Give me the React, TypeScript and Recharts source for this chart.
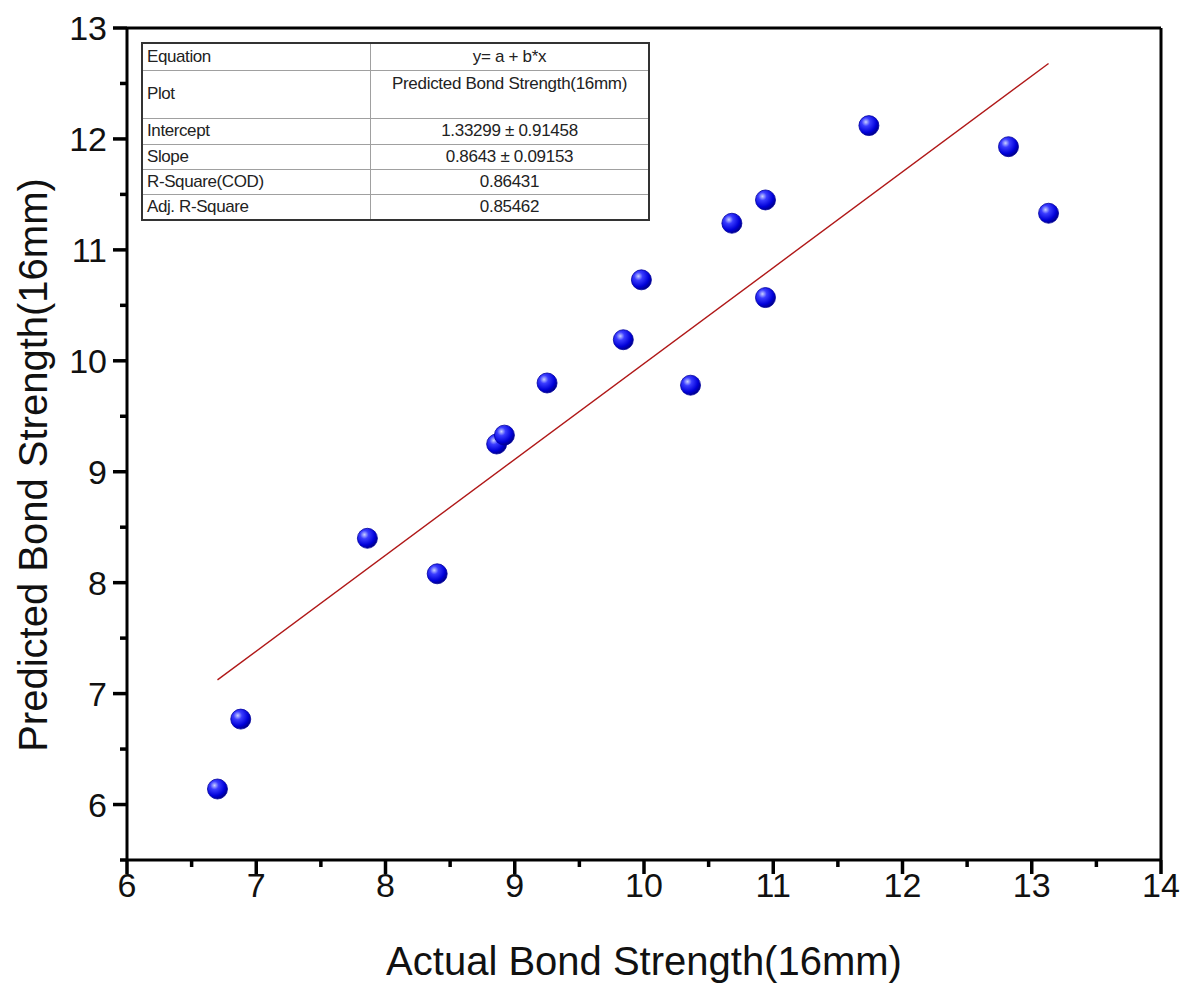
import React from "react";
import {
  ScatterChart,
  Scatter,
  XAxis,
  YAxis,
  ReferenceLine,
} from "recharts";

const actual = [6.7, 6.88, 7.86, 8.4, 8.86, 8.92, 9.25, 9.84, 9.98, 10.36, 10.68, 10.94, 10.94, 11.74, 12.82, 13.13];
const predicted = [6.14, 6.77, 8.4, 8.08, 9.25, 9.33, 9.8, 10.19, 10.73, 9.78, 11.24, 10.57, 11.45, 12.12, 11.93, 11.33];

// fitted line end points (y = 1.33299 + 0.8643x)
const fitX = [6.7, 13.13];
const fitY = [7.124, 12.68];

const xTicks = [6, 6.5, 7, 7.5, 8, 8.5, 9, 9.5, 10, 10.5, 11, 11.5, 12, 12.5, 13, 13.5, 14];
const yTicks = [5.5, 6, 6.5, 7, 7.5, 8, 8.5, 9, 9.5, 10, 10.5, 11, 11.5, 12, 12.5, 13];

const tableRows = [
  ["Equation", "y= a + b*x"],
  ["Plot", "Predicted Bond Strength(16mm)"],
  ["Intercept", "1.33299 \u00b1 0.91458"],
  ["Slope", "0.8643 \u00b1 0.09153"],
  ["R-Square(COD)", "0.86431"],
  ["Adj. R-Square", "0.85462"],
];
const rowHeights = [27, 48, 26, 25, 25, 26];

const points = actual.map((x, i) => ({ x, y: predicted[i] }));
const fitLine = fitX.map((x, i) => ({ x, y: fitY[i] }));

const FONT = "'Liberation Sans', Arial, sans-serif";

const XTick = (props: any) => {
  const { x, y, payload } = props;
  const major = Number.isInteger(payload.value);
  return (
    <g>
      <line x1={x} x2={x} y1={y} y2={y + (major ? 14 : 7)} stroke="#000" strokeWidth={3.5} />
      {major && (
        <text x={x} y={y + 37} textAnchor="middle" fontSize={34} fill="#111" fontFamily={FONT}>
          {payload.value}
        </text>
      )}
    </g>
  );
};

const YTick = (props: any) => {
  const { x, y, payload } = props;
  const major = Number.isInteger(payload.value);
  return (
    <g>
      <line x1={x - (major ? 14 : 7)} x2={x} y1={y} y2={y} stroke="#000" strokeWidth={3.5} />
      {major && (
        <text x={x - 20} y={y + 12} textAnchor="end" fontSize={34} fill="#111" fontFamily={FONT}>
          {payload.value}
        </text>
      )}
    </g>
  );
};

const Ball = (props: any) => {
  const { cx, cy } = props;
  if (cx == null || cy == null) return <g />;
  return <circle cx={cx} cy={cy} r={10} fill="url(#ballGrad)" stroke="#0000a0" strokeWidth={0.8} />;
};

const NoDot = () => <g />;

export default function App() {
  return (
    <div style={{ position: "absolute", left: 0, top: 0, width: 1186, height: 994, background: "#fff" }}>
      <ScatterChart width={1186} height={994} margin={{ top: 28, right: 25, left: 0, bottom: 0 }}>
        <defs>
          <radialGradient id="ballGrad" cx="35%" cy="32%" r="70%">
            <stop offset="0%" stopColor="#c8d0ff" />
            <stop offset="30%" stopColor="#3a3cff" />
            <stop offset="75%" stopColor="#0000d8" />
            <stop offset="100%" stopColor="#00008a" />
          </radialGradient>
        </defs>
        <XAxis
          type="number"
          dataKey="x"
          domain={[6, 14]}
          ticks={xTicks}
          interval={0}
          height={134}
          tickSize={0}
          tickMargin={0}
          tickLine={false}
          tick={<XTick />}
          axisLine={{ stroke: "#000", strokeWidth: 3 }}
          allowDataOverflow
          label={{
            content: () => (
              <text x={644} y={975} textAnchor="middle" fontSize={40} fill="#111" fontFamily={FONT}>
                Actual Bond Strength(16mm)
              </text>
            ),
          }}
        />
        <YAxis
          type="number"
          dataKey="y"
          domain={[5.5, 13]}
          ticks={yTicks}
          interval={0}
          width={127}
          tickSize={0}
          tickMargin={0}
          tickLine={false}
          tick={<YTick />}
          axisLine={{ stroke: "#000", strokeWidth: 3 }}
          allowDataOverflow
          label={{
            content: () => (
              <text
                x={47}
                y={465}
                textAnchor="middle"
                fontSize={40}
                fill="#111"
                fontFamily={FONT}
                transform="rotate(-90 47 465)"
              >
                Predicted Bond Strength(16mm)
              </text>
            ),
          }}
        />
        <ReferenceLine y={13} stroke="#000" strokeWidth={3} />
        <ReferenceLine x={14} stroke="#000" strokeWidth={3} />
        <Scatter
          data={fitLine}
          line={{ stroke: "#b01818", strokeWidth: 1.4 }}
          shape={<NoDot />}
          isAnimationActive={false}
        />
        <Scatter data={points} shape={<Ball />} isAnimationActive={false} />
      </ScatterChart>
      <table
        style={{
          position: "absolute",
          left: 141,
          top: 42,
          width: 509,
          borderCollapse: "collapse",
          border: "2px solid #333",
          fontFamily: FONT,
          fontSize: 17,
          color: "#222",
          background: "#fff",
        }}
      >
        <tbody>
          {tableRows.map((row, i) => (
            <tr key={row[0]} style={{ height: rowHeights[i] }}>
              <td
                style={{
                  width: 219,
                  padding: "0 4px",
                  border: "1px solid #a0a0a0",
                  verticalAlign: "middle",
                  letterSpacing: -0.4,
                }}
              >
                {row[0]}
              </td>
              <td
                style={{
                  padding: i === 1 ? "3px 4px 0" : "0 4px",
                  border: "1px solid #a0a0a0",
                  textAlign: "center",
                  verticalAlign: i === 1 ? "top" : "middle",
                  letterSpacing: -0.3,
                }}
              >
                {row[1]}
              </td>
            </tr>
          ))}
        </tbody>
      </table>
    </div>
  );
}
